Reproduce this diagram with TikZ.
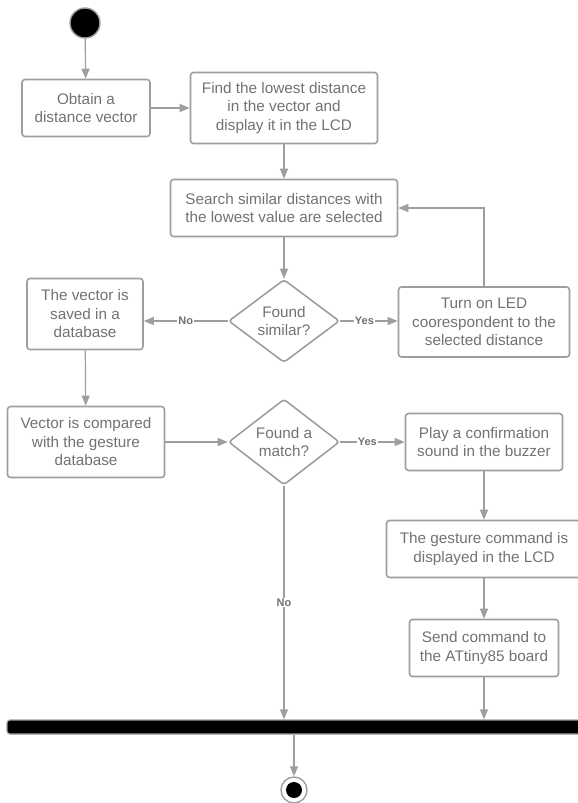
\documentclass[tikz,border=0pt]{standalone}
\usepackage{fontspec}
\setmainfont{Liberation Sans}
\usepackage{tikz}
\usetikzlibrary{arrows.meta}
\usetikzlibrary{shapes.geometric}
\usepackage{xcolor}

\definecolor{linegray}{HTML}{9E9E9E}
\definecolor{textgray}{HTML}{727272}

\tikzset{
  act/.style={draw=linegray, line width=1.6pt, rounded corners=3pt, align=center,
    text=textgray, font=\fontsize{15.3}{18.5}\selectfont, inner sep=2pt},
  choice/.style={diamond, draw=linegray, line width=1.6pt, rounded corners=3pt, align=center,
    text=textgray, font=\fontsize{15.3}{18.5}\selectfont, inner sep=0pt,
    minimum width=111pt, minimum height=83pt},
  flow/.style={draw=linegray, line width=1.2pt, -{Triangle[length=10pt,width=8pt]}},
  guard/.style={fill=white, text=textgray, font=\fontsize{11}{13}\selectfont\bfseries, inner sep=1pt}
}

\begin{document}
\begin{tikzpicture}[x=1pt, y=-1pt]
\useasboundingbox (0,0) rectangle (578,803);
%% \draw[help lines, step=50] (0,0) grid (578,803);

%% top row
\node[circle, fill=black, draw=linegray, line width=1.4pt, minimum size=30pt, inner sep=0pt] (start) at (85,23) {};
\node[act, minimum width=128pt, minimum height=57pt] (obtain) at (86,108) {Obtain a\\distance vector};
\node[act, minimum width=187pt, minimum height=71pt] (lowest) at (284,108) {Find the lowest distance\\in the vector and\\display it in the LCD};
\node[act, minimum width=227pt, minimum height=57pt] (search) at (284,208) {Search similar distances with\\the lowest value are selected};

%% first decision
\node[choice] (similar) at (284,321) {Found\\similar?};
\node[act, minimum width=116pt, minimum height=71pt] (saved) at (85,314) {The vector is\\saved in a\\database};
\node[act, minimum width=171pt, minimum height=70pt] (led) at (484,322) {Turn on LED\\coorespondent to the\\selected distance};

%% second decision
\node[act, minimum width=157pt, minimum height=71pt] (compare) at (86,442) {Vector is compared\\with the gesture\\database};
\node[choice] (match) at (284,442) {Found a\\match?};
\node[act, minimum width=157pt, minimum height=57pt] (buzzer) at (484,442) {Play a confirmation\\sound in the buzzer};
\node[act, minimum width=195pt, minimum height=57pt] (gesture) at (484,549) {The gesture command is\\displayed in the LCD};
\node[act, minimum width=149pt, minimum height=57pt] (send) at (484,648) {Send command to\\the ATtiny85 board};

%% join bar and end
\node[rectangle, fill=black, draw=linegray, line width=1.2pt, rounded corners=3pt,
  minimum width=600pt, minimum height=14pt, inner sep=0pt] (bar) at (307,727) {};
\node[circle, draw=linegray, line width=1.4pt, fill=white, minimum size=26pt, inner sep=0pt] (stop) at (294,790) {};
\fill (stop) circle[radius=8pt];

%% connectors
\draw[flow] (start) -- (obtain);
\draw[flow] (obtain) -- (lowest);
\draw[flow] (lowest) -- (search);
\draw[flow] (search) -- (similar);
\draw[flow] (similar.west) -- node[guard] {No} (saved.east |- similar.west);
\draw[flow] (similar.east) -- node[guard, pos=0.42] {Yes} (led.west |- similar.east);
\draw[flow] (led.north) |- (search.east);
\draw[flow] (saved) -- (compare);
\draw[flow] (compare) -- (match);
\draw[flow] (match.east) -- node[guard, pos=0.42] {Yes} (buzzer.west |- match.east);
\draw[flow] (match.south) -- node[guard, pos=0.5] {No} (match.south |- bar.north);
\draw[flow] (buzzer) -- (gesture);
\draw[flow] (gesture) -- (send);
\draw[flow] (send.south) -- (send.south |- bar.north);
\draw[flow] (stop.north |- bar.south) -- (stop.north);
\end{tikzpicture}
\end{document}
